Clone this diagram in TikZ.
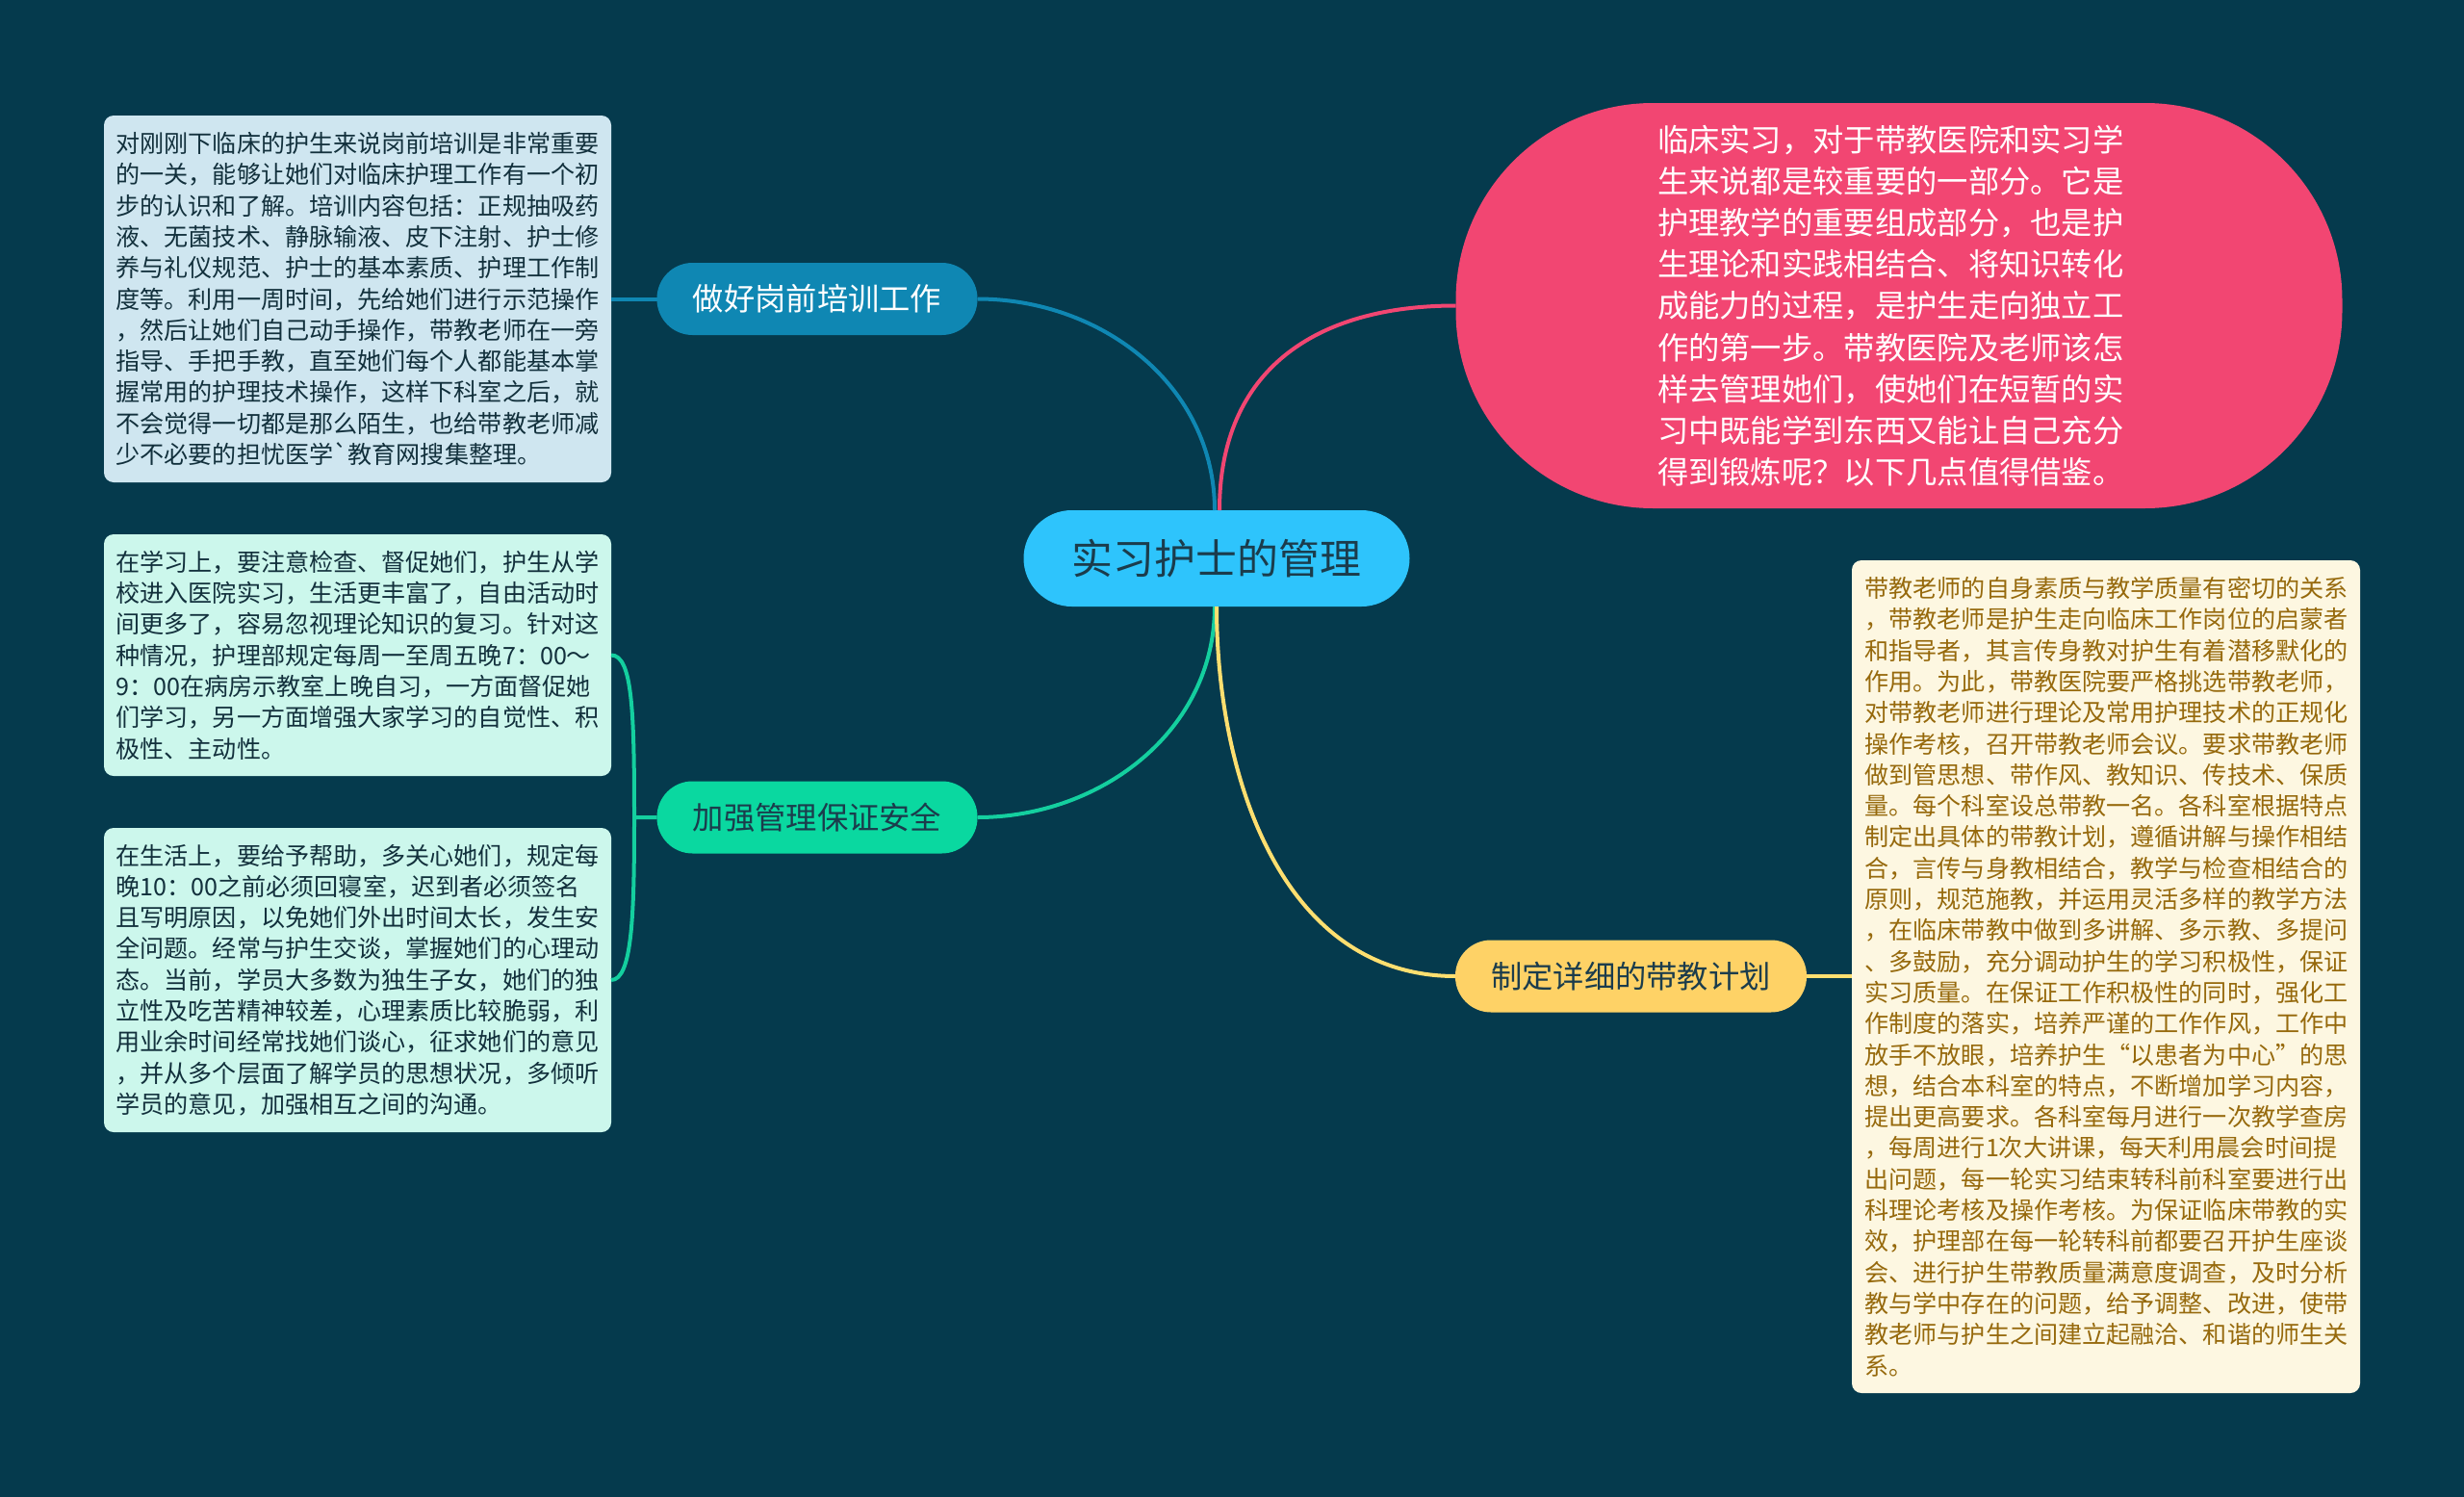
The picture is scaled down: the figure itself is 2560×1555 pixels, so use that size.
\documentclass[tikz,border=0pt]{standalone}
\usepackage{fontspec}
\setmainfont{Noto Sans CJK SC}
\newfontfamily\plainfont{Noto Sans CJK SC}
\usepackage{tikz}

\definecolor{bgdark}{HTML}{053A4D}
\definecolor{hubcyan}{HTML}{2EC4FC}
\definecolor{hubtext}{HTML}{1B3C4C}
\definecolor{trainblue}{HTML}{0F87B3}
\definecolor{safegreen}{HTML}{0AD8A0}
\definecolor{safeline}{HTML}{14CF9F}
\definecolor{planyellow}{HTML}{FED266}
\definecolor{planline}{HTML}{FFDF70}
\definecolor{introred}{HTML}{F24672}
\definecolor{leafblue}{HTML}{CFE6F0}
\definecolor{leafgreen}{HTML}{CCF7EC}
\definecolor{leafcream}{HTML}{FDF7E1}
\definecolor{leaftext}{HTML}{12303C}
\definecolor{creamtext}{HTML}{96690C}

\begin{document}
\begin{tikzpicture}[x=1pt, y=-1pt,
        every node/.style={inner sep=0pt, outer sep=0pt, align=center},
        pill/.style={rounded corners=37pt, minimum width=#1, minimum height=75pt,
            font=\fontsize{32.3}{40}\selectfont},
        leaf/.style={rounded corners=10pt, text width=#1, align=left, text=leaftext,
            font=\fontsize{25.1}{32.3}\selectfont},
        wire/.style={line width=4pt}
    ]
    \path [use as bounding box, fill=bgdark] (0,0) rectangle (2560,1555);

    % Zentrum
    \node (hub) at (1264,580) [rounded corners=50pt, fill=hubcyan, text=hubtext,
        minimum width=401pt, minimum height=100pt,
        font=\fontsize{42.9}{50}\selectfont] {实习护士的管理};

    % Zweige
    \node (train) at (849,310.5) [pill=333pt, fill=trainblue, text=white] {做好岗前培训工作};
    \node (safe) at (849,849) [pill=333pt, fill=safegreen, text=hubtext] {加强管理保证安全};
    \node (plan) at (1694.5,1014) [pill=365pt, fill=planyellow, text=hubtext] {制定详细的带教计划};

    % Textfelder
    \node (intro) at (1973,317.5) [rounded corners=205pt, fill=introred, text=white,
        minimum width=921pt, minimum height=421pt, text width=502pt, align=left,
        font=\fontsize{32.3}{43.2}\selectfont] {%
        临床实习，对于带教医院和实习学\\
        生来说都是较重要的一部分。它是\\
        护理教学的重要组成部分，也是护\\
        生理论和实践相结合、将知识转化\\
        成能力的过程，是护生走向独立工\\
        作的第一步。带教医院及老师该怎\\
        样去管理她们，使她们在短暂的实\\
        习中既能学到东西又能让自己充分\\
        得到锻炼呢？以下几点值得借鉴。};

    \node (trainleaf) at (371.5,310.5) [leaf=502pt, fill=leafblue,
        minimum width=527pt, minimum height=381pt] {%
        对刚刚下临床的护生来说岗前培训是非常重要\\
        的一关，能够让她们对临床护理工作有一个初\\
        步的认识和了解。培训内容包括：正规抽吸药\\
        液、无菌技术、静脉输液、皮下注射、护士修\\
        养与礼仪规范、护士的基本素质、护理工作制\\
        度等。利用一周时间，先给她们进行示范操作\\
        ，然后让她们自己动手操作，带教老师在一旁\\
        指导、手把手教，直至她们每个人都能基本掌\\
        握常用的护理技术操作，这样下科室之后，就\\
        不会觉得一切都是那么陌生，也给带教老师减\\
        少不必要的担忧医学{\plainfont`}教育网搜集整理。};

    \node (studyleaf) at (371.5,680.5) [leaf=502pt, fill=leafgreen,
        minimum width=527pt, minimum height=251pt] {%
        在学习上，要注意检查、督促她们，护生从学\\
        校进入医院实习，生活更丰富了，自由活动时\\
        间更多了，容易忽视理论知识的复习。针对这\\
        种情况，护理部规定每周一至周五晚7：00～\\
        9：00在病房示教室上晚自习，一方面督促她\\
        们学习，另一方面增强大家学习的自觉性、积\\
        极性、主动性。};

    \node (lifeleaf) at (371.5,1018) [leaf=502pt, fill=leafgreen,
        minimum width=527pt, minimum height=316pt] {%
        在生活上，要给予帮助，多关心她们，规定每\\
        晚10：00之前必须回寝室，迟到者必须签名\\
        且写明原因，以免她们外出时间太长，发生安\\
        全问题。经常与护生交谈，掌握她们的心理动\\
        态。当前，学员大多数为独生子女，她们的独\\
        立性及吃苦精神较差，心理素质比较脆弱，利\\
        用业余时间经常找她们谈心，征求她们的意见\\
        ，并从多个层面了解学员的思想状况，多倾听\\
        学员的意见，加强相互之间的沟通。};

    \node (planleaf) at (2188,1014.5) [leaf=501pt, fill=leafcream, text=creamtext,
        minimum width=528pt, minimum height=865pt] {%
        带教老师的自身素质与教学质量有密切的关系\\
        ，带教老师是护生走向临床工作岗位的启蒙者\\
        和指导者，其言传身教对护生有着潜移默化的\\
        作用。为此，带教医院要严格挑选带教老师，\\
        对带教老师进行理论及常用护理技术的正规化\\
        操作考核，召开带教老师会议。要求带教老师\\
        做到管思想、带作风、教知识、传技术、保质\\
        量。每个科室设总带教一名。各科室根据特点\\
        制定出具体的带教计划，遵循讲解与操作相结\\
        合，言传与身教相结合，教学与检查相结合的\\
        原则，规范施教，并运用灵活多样的教学方法\\
        ，在临床带教中做到多讲解、多示教、多提问\\
        、多鼓励，充分调动护生的学习积极性，保证\\
        实习质量。在保证工作积极性的同时，强化工\\
        作制度的落实，培养严谨的工作作风，工作中\\
        放手不放眼，培养护生“以患者为中心”的思\\
        想，结合本科室的特点，不断增加学习内容，\\
        提出更高要求。各科室每月进行一次教学查房\\
        ，每周进行1次大讲课，每天利用晨会时间提\\
        出问题，每一轮实习结束转科前科室要进行出\\
        科理论考核及操作考核。为保证临床带教的实\\
        效，护理部在每一轮转科前都要召开护生座谈\\
        会、进行护生带教质量满意度调查，及时分析\\
        教与学中存在的问题，给予调整、改进，使带\\
        教老师与护生之间建立起融洽、和谐的师生关\\
        系。};

    % Leitungen
    \coordinate (fork) at (659,849);
    \draw [wire, trainblue] (train.east) to [out=0, in=90] ([xshift=-2pt]hub.north);
    \draw [wire, introred] (intro.west) to [out=180, in=90, looseness=1.15] ([xshift=3pt]hub.north);
    \draw [wire, safeline] (safe.east) to [out=0, in=-90] ([xshift=-2pt]hub.south);
    \draw [wire, planline] (plan.west) to [out=180, in=-90] (hub.south);
    \draw [wire, trainblue] (train.west) -- (trainleaf.east |- train.west);
    \draw [wire, planline] (plan.east) -- (planleaf.west |- plan.east);
    \draw [wire, safeline] (safe.west) -- (fork)
        (studyleaf.east) .. controls +(22,0) and +(0,-110) .. (fork)
        (lifeleaf.east) .. controls +(22,0) and +(0,100) .. (fork);
\end{tikzpicture}
\end{document}
